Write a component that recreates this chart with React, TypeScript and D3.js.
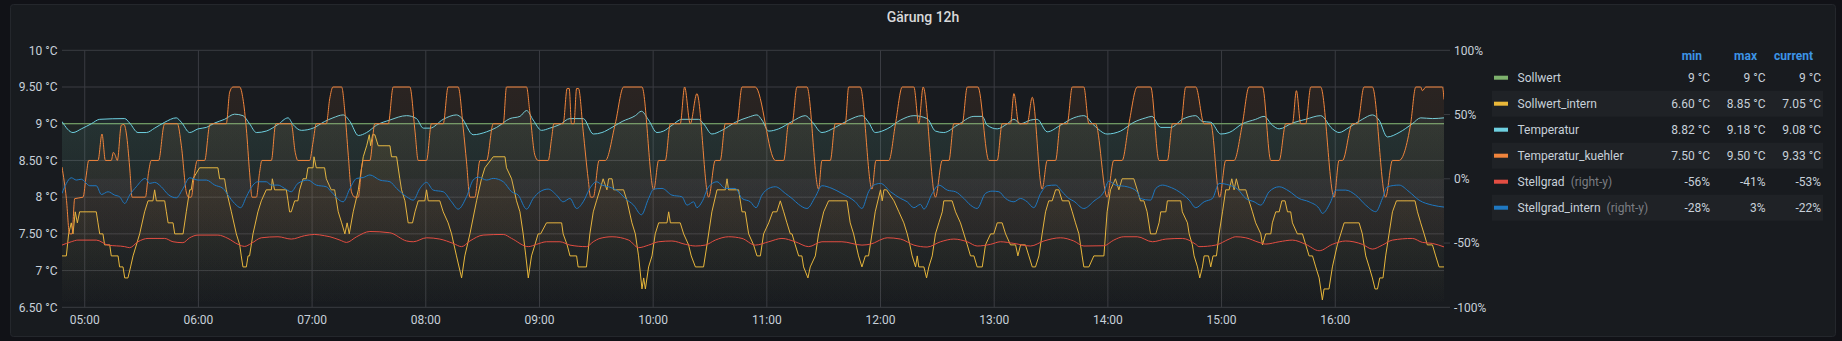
import React from "react";
import * as d3 from "d3";

const W = 1842;
const H = 341;

// ---------- data (minutes since 04:48, value) ----------
const seriesNames = ["Sollwert", "Sollwert_intern", "Temperatur", "Temperatur_kuehler", "Stellgrad", "Stellgrad_intern"];
const seriesColors = ["#7EB26D", "#EAB839", "#6ED0E0", "#EF843C", "#E24D42", "#1F78C1"];
const seriesAxis = ["left", "left", "left", "left", "right", "right"];

const legendMin = ["9 °C", "6.60 °C", "8.82 °C", "7.50 °C", "-56%", "-28%"];
const legendMax = ["9 °C", "8.85 °C", "9.18 °C", "9.50 °C", "-41%", "3%"];
const legendCurrent = ["9 °C", "7.05 °C", "9.08 °C", "9.33 °C", "-53%", "-22%"];

const leftTicks = [6.5, 7, 7.5, 8, 8.5, 9, 9.5, 10];
const rightTicks = [-100, -50, 0, 50, 100];

const startHour = 4;
const startMinute = 48;
const spanMinutes = 729.4;

const sollwert: [number, number][] = [[0, 9], [729.4, 9]];

const sollwertIntern: [number, number][] = [[0,7.2],[2.3,7.2],[3.5,7.5],[4.9,7.65],[5.8,7.5],[7.0,7.8],[8.1,7.65],[9.3,7.8],[18.1,7.8],[19.0,7.65],[19.9,7.5],[21.6,7.5],[22.5,7.35],[25.2,7.35],[26.0,7.2],[29.6,7.2],[30.4,7.05],[32.2,7.05],[33.1,6.9],[34.8,6.9],[36.2,7.05],[37.5,7.2],[41.0,7.5],[43.6,7.8],[45.4,7.95],[48.0,7.95],[48.9,8.1],[49.8,7.95],[54.2,7.95],[55.1,7.8],[56.0,7.65],[58.6,7.65],[59.5,7.5],[63.9,7.5],[65.6,7.8],[67.4,8.1],[68.2,8.1],[69.1,8.25],[72.6,8.4],[82.3,8.4],[83.2,8.25],[85.8,8.25],[86.7,8.1],[89.4,7.8],[92.0,7.5],[93.8,7.35],[94.6,7.2],[95.5,7.05],[97.3,7.05],[98.2,7.2],[99.0,7.2],[100.8,7.5],[103.4,7.8],[105.2,7.95],[107.8,8.1],[110.5,8.1],[111.0,8.25],[112.2,8.1],[118.4,8.1],[119.3,7.95],[120.1,7.8],[121.0,7.8],[122.8,7.95],[124.5,7.95],[125.4,8.1],[127.2,8.25],[128.9,8.25],[129.8,8.4],[132.5,8.4],[133.0,8.55],[134.2,8.4],[138.6,8.4],[139.5,8.25],[142.1,8.1],[143.9,8.1],[145.8,7.8],[147.6,7.65],[149.3,7.5],[150.5,7.65],[151.6,7.5],[153.7,7.8],[156.4,8.1],[159.0,8.55],[160.8,8.7],[162.2,8.85],[162.9,8.7],[163.9,8.85],[165.1,8.85],[166.9,8.7],[173.1,8.7],[173.9,8.55],[176.6,8.55],[178.3,8.25],[179.2,8.1],[181.0,7.95],[182.7,7.65],[185.0,7.65],[186.3,7.8],[188.0,7.95],[191.5,7.95],[192.4,8.1],[193.3,7.95],[199.4,7.95],[201.2,7.8],[203.8,7.65],[205.6,7.5],[208.2,7.2],[210.9,6.9],[212.6,7.2],[215.3,7.5],[218.8,7.95],[221.4,8.25],[223.2,8.4],[227.6,8.55],[233.8,8.55],[234.6,8.4],[237.3,8.25],[239.9,7.95],[241.7,7.8],[243.4,7.5],[244.8,7.2],[246.1,6.9],[247.8,7.2],[249.6,7.35],[251.3,7.5],[252.6,7.5],[255.7,7.65],[263.7,7.65],[264.5,7.5],[266.6,7.35],[268.1,7.2],[271.6,7.2],[272.4,7.05],[276.8,7.05],[278.6,7.5],[280.4,7.8],[282.1,7.95],[283.9,8.1],[285.6,8.25],[287.6,8.1],[288.5,8.25],[290.3,8.25],[291.2,8.1],[296.4,8.1],[298.2,7.95],[300.8,7.65],[302.6,7.5],[304.3,7.2],[306.1,6.75],[307.0,6.9],[307.9,6.75],[309.6,7.05],[311.4,7.2],[313.1,7.5],[314.9,7.65],[319.3,7.65],[320.2,7.8],[321.1,7.65],[326.3,7.65],[328.1,7.5],[330.7,7.35],[332.1,7.2],[334.3,7.05],[338.6,7.05],[340.4,7.35],[343.0,7.8],[345.7,8.1],[350.1,8.1],[351.0,8.25],[351.8,8.1],[357.1,8.1],[358.9,7.8],[360.6,7.8],[362.4,7.5],[365.0,7.35],[366.8,7.2],[368.6,7.2],[370.3,7.5],[373.0,7.65],[375.1,7.8],[377.3,7.8],[379.1,7.95],[380.9,7.8],[382.6,7.65],[384.4,7.5],[385.3,7.5],[387.0,7.35],[388.8,7.2],[390.5,7.2],[391.4,7.05],[393.7,6.9],[394.9,7.05],[397.6,7.2],[399.3,7.5],[402.0,7.8],[404.6,7.95],[414.3,7.95],[416.0,7.65],[417.8,7.5],[420.4,7.2],[422.2,7.05],[424.0,7.2],[425.7,7.2],[427.5,7.5],[429.2,7.8],[432.0,8.1],[432.9,7.95],[433.8,8.1],[435.2,8.1],[439.1,7.95],[441.7,7.8],[444.3,7.65],[446.1,7.5],[447.5,7.35],[448.7,7.2],[450.5,7.05],[451.4,7.2],[452.2,7.05],[454.9,7.05],[456.3,6.9],[457.5,7.05],[459.3,7.2],[461.0,7.5],[462.8,7.65],[464.6,7.8],[465.4,7.95],[469.8,7.95],[471.6,7.8],[474.2,7.65],[476.0,7.5],[477.8,7.35],[479.5,7.2],[481.3,7.2],[483.0,7.05],[485.7,7.05],[487.4,7.35],[490.1,7.5],[491.8,7.5],[493.6,7.65],[496.2,7.65],[498.0,7.5],[500.6,7.35],[503.3,7.35],[504.5,7.2],[505.9,7.35],[508.5,7.35],[510.3,7.2],[512.1,7.05],[513.8,7.05],[515.6,7.2],[517.3,7.5],[519.1,7.8],[520.8,7.95],[522.6,7.95],[524.4,8.1],[526.1,8.1],[527.9,7.95],[531.4,7.95],[533.2,7.8],[534.9,7.65],[536.7,7.5],[538.4,7.2],[539.3,7.05],[542.0,7.05],[544.6,7.2],[549.9,7.2],[551.6,7.8],[553.4,8.1],[556.0,8.25],[557.8,8.1],[559.5,8.25],[565.7,8.25],[567.5,8.1],[569.2,7.95],[571.0,7.95],[572.7,7.8],[574.5,7.5],[577.3,7.5],[579.0,7.65],[579.9,7.8],[582.6,7.8],[583.4,7.95],[590.5,7.95],[591.3,7.8],[594.0,7.65],[594.9,7.5],[596.6,7.35],[597.5,7.2],[599.3,7.05],[600.5,6.9],[601.9,7.05],[602.8,7.2],[605.1,7.2],[606.3,7.05],[607.5,7.2],[609.3,7.2],[610.7,7.5],[612.5,7.8],[614.2,8.1],[616.0,8.1],[617.4,8.25],[618.6,8.1],[619.8,8.25],[621.3,8.1],[624.8,8.1],[626.5,7.95],[628.3,7.8],[630.0,7.65],[632.7,7.5],[633.6,7.35],[635.3,7.5],[638.0,7.5],[638.8,7.65],[640.6,7.8],[642.4,7.8],[643.8,7.95],[645.5,7.95],[646.8,7.8],[648.5,7.8],[649.4,7.65],[652.0,7.5],[654.7,7.5],[658.2,7.2],[660.0,7.2],[661.7,7.05],[663.5,6.9],[665.2,6.6],[666.1,6.75],[668.7,6.75],[670.5,7.05],[673.1,7.35],[674.9,7.5],[676.7,7.65],[684.6,7.65],[686.3,7.5],[688.1,7.2],[689.9,7.05],[691.6,6.9],[693.0,6.75],[694.3,6.75],[695.5,6.9],[697.2,6.9],[698.6,7.2],[700.4,7.5],[702.2,7.8],[704.3,7.95],[714.1,7.95],[715.4,7.8],[717.1,7.65],[718.9,7.5],[720.6,7.35],[723.3,7.35],[725.0,7.2],[726.8,7.05],[729.4,7.05]];

const temperatur: [number, number][] = [[0,9.03],[5.8,8.88],[10.2,8.93],[15.5,9.0],[19.9,9.06],[33.1,9.07],[35.7,9.01],[40.1,8.88],[44.5,8.88],[48.9,8.94],[54.2,9.02],[60.3,9.08],[63.0,9.02],[67.4,8.88],[71.8,8.93],[76.2,8.95],[80.6,9.01],[85.8,9.06],[91.1,9.13],[95.5,9.11],[99.0,9.0],[102.6,8.88],[107.8,8.9],[114.0,8.99],[119.3,9.08],[121.9,8.99],[126.3,8.91],[132.5,8.94],[138.6,9.03],[143.0,9.08],[148.4,9.12],[152.0,9.03],[156.4,8.84],[160.8,8.88],[166.0,8.98],[173.0,9.05],[181.9,9.11],[187.1,9.07],[190.7,8.94],[194.2,8.94],[201.2,9.06],[208.2,9.12],[210.9,9.08],[217.0,8.85],[224.1,8.89],[229.4,8.95],[236.4,9.07],[241.7,9.1],[245.2,9.18],[248.7,9.05],[253.1,8.91],[257.5,8.94],[262.8,8.99],[268.1,9.07],[275.1,9.07],[280.4,8.86],[285.0,8.88],[290.3,8.95],[295.6,9.03],[302.6,9.11],[305.8,9.17],[309.6,9.05],[314.0,8.88],[317.5,8.9],[322.0,8.98],[327.2,9.06],[336.0,9.06],[338.6,9.0],[343.0,8.86],[348.3,8.91],[355.4,9.02],[362.4,9.09],[366.8,9.12],[369.4,9.05],[373.0,8.9],[378.2,8.93],[385.3,9.03],[392.3,9.11],[395.8,9.03],[401.1,8.88],[408.1,8.95],[415.2,9.05],[422.2,9.11],[425.7,9.02],[429.2,8.88],[435.5,8.93],[442.6,9.05],[449.6,9.11],[456.6,9.07],[461.0,8.9],[465.4,8.88],[472.5,8.98],[481.3,9.1],[485.7,9.1],[488.3,8.98],[493.6,8.93],[498.9,9.0],[502.4,9.06],[505.9,9.0],[511.2,9.05],[514.7,9.06],[520.0,8.89],[527.0,8.98],[534.0,9.08],[539.3,9.11],[544.6,8.98],[551.6,8.86],[558.7,8.9],[565.7,9.02],[572.0,9.08],[575.2,9.1],[579.9,8.95],[585.2,8.95],[591.3,9.06],[598.4,9.11],[601.9,9.03],[606.3,9.02],[611.6,8.86],[616.0,8.88],[623.0,9.0],[630.0,9.06],[634.4,9.1],[638.8,8.98],[642.4,8.93],[649.4,9.01],[656.4,9.06],[664.3,9.11],[670.5,8.93],[674.0,8.88],[679.3,8.95],[686.3,9.06],[691.6,9.12],[695.1,9.05],[699.5,8.82],[705.7,8.88],[712.7,9.0],[717.1,9.08],[723.3,9.07],[729.4,9.08]];

const temperaturKuehler: [number, number][] = [[0,8.41],[2.3,7.98],[4.0,7.5],[5.3,7.5],[6.7,7.98],[11.1,8.0],[12.8,8.3],[14.1,8.5],[19.0,8.5],[21.1,8.86],[22.9,8.5],[26.0,8.5],[27.1,8.61],[28.1,8.57],[29.2,8.5],[31.3,8.98],[32.7,8.99],[34.0,8.86],[35.7,8.41],[37.0,8.0],[44.0,8.0],[45.7,8.34],[47.1,8.5],[51.0,8.5],[53.8,8.98],[54.2,9.0],[60.9,9.0],[63.0,8.7],[65.6,8.07],[66.8,8.0],[68.2,8.0],[70.0,8.34],[71.4,8.5],[75.3,8.5],[77.9,8.98],[78.8,9.0],[86.7,9.0],[88.5,9.43],[90.2,9.5],[93.8,9.5],[95.5,9.34],[97.3,8.93],[99.0,8.34],[100.3,8.0],[102.6,8.0],[104.3,8.34],[105.5,8.5],[110.5,8.5],[112.6,8.98],[113.1,9.0],[121.0,9.0],[123.1,8.61],[124.5,8.5],[130.7,8.5],[132.5,8.75],[134.2,9.0],[139.5,9.0],[141.3,9.34],[143.0,9.5],[147.6,9.5],[149.3,9.16],[151.1,8.57],[152.8,8.07],[154.6,8.0],[156.4,8.0],[158.1,8.4],[159.0,8.5],[162.5,8.5],[165.1,9.0],[172.2,9.0],[174.8,9.5],[183.6,9.5],[186.3,8.9],[188.0,8.5],[192.4,8.5],[195.0,9.0],[201.2,9.0],[203.8,9.5],[209.1,9.5],[211.8,8.93],[213.5,8.48],[215.3,8.0],[217.9,8.0],[220.6,8.5],[224.1,8.5],[227.6,9.0],[232.9,9.0],[234.6,9.5],[245.2,9.5],[246.9,9.16],[249.6,8.57],[251.3,8.5],[256.6,8.5],[258.4,8.8],[259.6,9.0],[264.5,9.0],[266.6,9.48],[267.7,9.48],[268.9,9.0],[270.2,9.0],[271.6,9.48],[272.6,9.48],[275.1,8.89],[277.7,8.25],[279.0,8.0],[280.4,8.0],[283.5,8.5],[286.8,8.5],[292.0,9.0],[296.4,9.5],[306.1,9.5],[312.3,8.1],[314.9,8.5],[318.4,8.5],[321.1,9.0],[326.3,9.0],[328.6,9.5],[331.6,9.0],[335.1,9.41],[341.3,8.0],[344.8,8.5],[347.4,8.5],[350.1,9.0],[356.2,9.0],[358.9,9.5],[365.9,9.5],[376.5,8.5],[380.9,8.5],[383.5,9.0],[385.3,9.0],[387.9,9.5],[393.2,9.5],[399.3,8.11],[401.1,8.5],[405.5,8.5],[408.1,9.0],[413.4,9.0],[415.2,9.5],[421.3,9.5],[427.5,8.11],[429.6,8.5],[436.4,8.5],[439.9,9.0],[443.5,9.5],[449.6,9.5],[452.2,9.0],[454.5,9.5],[461.0,8.0],[464.6,8.5],[468.1,8.5],[470.7,9.0],[475.1,9.0],[477.8,9.5],[483.4,9.5],[489.2,8.5],[493.6,8.5],[496.2,9.0],[500.6,9.0],[502.4,9.41],[505.0,9.0],[509.4,9.0],[512.1,9.36],[517.3,8.11],[520.0,8.5],[524.4,8.5],[527.0,9.0],[530.5,9.0],[533.2,9.5],[539.3,9.5],[542.0,9.0],[545.5,9.0],[551.6,8.0],[555.1,8.5],[559.5,8.5],[563.1,9.0],[567.5,9.5],[574.6,9.5],[579.0,8.5],[583.4,8.5],[586.1,9.0],[590.5,9.0],[593.1,9.5],[598.4,9.5],[602.8,9.0],[606.3,9.0],[611.0,8.0],[614.2,8.5],[618.6,8.5],[623.0,9.0],[626.5,9.5],[633.6,9.5],[638.0,8.5],[642.4,8.5],[645.9,9.0],[649.4,9.0],[651.5,9.45],[653.8,9.0],[656.4,9.0],[659.1,9.5],[664.3,9.5],[671.4,8.0],[674.0,8.5],[675.8,8.5],[681.1,9.0],[683.7,9.0],[687.2,9.5],[691.6,9.5],[698.6,8.0],[702.2,8.5],[705.7,8.5],[711.8,9.0],[714.5,9.5],[717.1,9.5],[718.0,9.45],[719.8,9.5],[728.6,9.5],[729.4,9.33]];

const stellgrad: [number, number][] = [[0,-51.6],[4.9,-49.0],[8.4,-47.7],[18.1,-47.7],[24.3,-51.6],[33.1,-52.8],[35.7,-53.6],[40.1,-49.0],[45.4,-46.4],[54.2,-46.4],[58.6,-49.0],[63.8,-49.7],[67.4,-45.9],[71.8,-43.8],[82.3,-43.8],[87.6,-46.4],[92.9,-51.0],[96.4,-52.6],[99.9,-50.3],[105.2,-45.9],[114.0,-45.1],[121.0,-46.9],[128.0,-44.3],[133.3,-43.3],[138.6,-44.3],[141.4,-45.1],[146.7,-47.7],[150.2,-49.5],[155.5,-45.1],[162.5,-41.0],[173.0,-42.0],[181.9,-48.4],[185.4,-49.0],[192.4,-45.9],[199.4,-46.9],[206.5,-50.3],[210.9,-52.8],[215.3,-48.4],[222.3,-43.8],[232.9,-43.3],[237.3,-46.4],[246.1,-52.8],[250.5,-51.0],[255.7,-49.0],[262.8,-49.0],[268.1,-51.6],[276.8,-52.8],[280.4,-49.0],[283.9,-46.4],[290.3,-45.1],[299.1,-47.7],[304.3,-53.6],[309.6,-51.6],[314.9,-49.0],[321.9,-48.4],[329.0,-51.0],[334.3,-52.3],[339.5,-51.6],[344.8,-47.7],[351.8,-45.1],[358.9,-46.4],[365.9,-51.6],[373.0,-49.0],[380.0,-46.4],[387.0,-49.0],[394.1,-52.8],[401.1,-49.0],[411.6,-49.0],[422.2,-51.6],[427.5,-50.5],[432.8,-47.0],[435.5,-45.9],[442.6,-46.9],[449.6,-51.6],[456.6,-53.1],[463.7,-49.0],[470.7,-46.9],[477.8,-49.0],[483.0,-52.3],[490.1,-51.0],[495.3,-49.0],[502.4,-50.3],[511.2,-52.3],[518.2,-48.4],[527.0,-45.9],[534.0,-48.4],[539.3,-52.3],[549.9,-52.1],[555.1,-47.7],[560.4,-45.1],[567.5,-45.1],[575.5,-49.0],[582.6,-46.9],[591.3,-46.4],[598.4,-51.0],[600.1,-52.8],[608.9,-51.6],[616.0,-46.9],[619.5,-45.1],[624.8,-45.9],[631.8,-49.5],[635.3,-50.8],[642.4,-49.0],[649.4,-47.7],[656.4,-51.0],[663.5,-56.0],[670.5,-51.0],[677.5,-48.4],[686.3,-51.0],[691.6,-54.7],[696.9,-51.6],[702.2,-47.7],[712.7,-46.4],[718.0,-49.5],[723.3,-50.3],[729.4,-53.0]];

const stellgradIntern: [number, number][] = [[0,-11.4],[2.3,-3.6],[4.9,0.8],[7.6,-1.0],[10.2,-0.3],[12.0,-2.3],[14.6,-5.4],[18.1,-5.4],[20.8,-12.2],[24.3,-10.1],[27.8,-12.7],[30.4,-14.0],[33.1,-19.2],[35.7,-12.7],[39.2,-6.2],[44.0,0.3],[46.3,-3.6],[48.9,-2.8],[52.4,-6.2],[56.0,-12.2],[60.3,-14.8],[63.9,-7.5],[67.4,0.8],[71.8,-1.0],[76.2,-1.0],[80.6,-4.9],[85.0,-7.5],[87.6,-12.7],[91.1,-19.2],[94.3,-22.5],[97.3,-14.0],[100.8,-4.9],[103.4,-2.3],[107.8,-2.3],[110.5,-4.9],[114.0,-4.9],[117.5,-7.5],[121.0,-10.1],[124.5,-3.6],[129.8,-1.0],[134.2,-4.9],[139.5,-6.2],[142.1,-10.1],[148.4,-17.9],[152.0,-7.5],[155.5,0.3],[159.0,1.0],[162.5,3.0],[167.8,-1.0],[173.1,-2.3],[176.6,-7.5],[181.9,-14.0],[185.4,-16.6],[188.9,-7.5],[192.4,-2.8],[195.9,-8.8],[201.2,-10.1],[205.6,-17.9],[209.1,-23.6],[213.5,-14.0],[217.0,-1.0],[219.7,1.3],[224.1,-1.0],[227.6,0.3],[232.9,-2.3],[237.3,-10.1],[240.8,-12.7],[245.2,-23.6],[248.7,-15.3],[252.2,-10.1],[256.6,-8.0],[261.0,-12.7],[264.5,-17.9],[268.1,-15.3],[271.6,-23.1],[275.1,-17.9],[278.6,-7.5],[282.1,-2.3],[285.0,-4.9],[288.5,-6.2],[293.8,-10.1],[297.3,-15.3],[301.7,-20.5],[305.8,-28.0],[309.6,-15.3],[312.3,-8.0],[316.7,-7.5],[321.9,-12.7],[327.2,-14.0],[329.9,-20.5],[333.4,-17.9],[335.1,-22.5],[337.8,-17.9],[341.3,-6.2],[345.7,-2.3],[350.1,-7.5],[355.4,-7.5],[358.9,-15.3],[363.3,-17.9],[366.3,-22.5],[369.4,-12.7],[373.0,-7.5],[376.5,-6.2],[381.8,-11.4],[385.3,-15.3],[388.8,-19.9],[393.2,-23.1],[397.6,-14.0],[401.1,-5.4],[406.4,-7.5],[411.6,-11.4],[418.7,-17.9],[422.2,-23.1],[425.7,-10.1],[428.4,-4.9],[432.0,-3.6],[437.3,-10.1],[442.6,-15.3],[446.1,-17.9],[449.6,-22.5],[453.1,-19.9],[454.9,-23.6],[459.3,-11.4],[462.8,-4.9],[467.2,-8.8],[471.6,-10.1],[476.0,-15.3],[479.5,-20.5],[483.0,-23.1],[487.4,-11.4],[490.9,-9.6],[494.5,-10.1],[498.0,-15.3],[502.4,-17.9],[505.9,-15.3],[509.4,-17.9],[512.9,-22.5],[516.5,-11.4],[520.0,-5.4],[524.4,-4.9],[527.9,-10.1],[531.4,-15.3],[534.0,-17.4],[539.3,-23.1],[544.6,-17.4],[549.9,-10.1],[552.5,-1.8],[556.0,-4.9],[562.2,-6.2],[567.5,-10.1],[569.2,-15.3],[574.5,-16.6],[577.3,-7.5],[580.8,-4.9],[584.3,-6.2],[589.6,-10.1],[594.9,-16.6],[598.4,-22.5],[602.8,-17.9],[607.2,-15.3],[610.7,-3.6],[616.0,-4.9],[620.4,-8.0],[624.8,-15.3],[629.2,-17.9],[632.7,-20.5],[637.1,-10.1],[642.4,-6.2],[647.6,-9.6],[652.9,-15.3],[658.2,-17.9],[663.5,-23.1],[665.2,-26.9],[669.6,-17.9],[672.3,-8.8],[677.5,-8.8],[682.8,-12.7],[688.1,-20.5],[693.4,-25.6],[696.9,-15.3],[699.5,-6.2],[705.7,-4.9],[711.0,-10.1],[716.2,-16.6],[723.3,-20.5],[729.4,-22.0]];

const seriesData = [sollwert, sollwertIntern, temperatur, temperaturKuehler, stellgrad, stellgradIntern];
const seriesSmooth = [false, false, true, true, true, true];

// ---------- layout ----------
const PLOT_L = 62;
const PLOT_R = 1444;
const PLOT_T = 50.3;
const PLOT_B = 307.3;
const FILL_TOP = 0.1;

const FONT = "Roboto, 'Noto Sans', sans-serif";
const TEXT = "#c7d0d9";

export default function App() {
  const t0 = new Date(2021, 5, 1, startHour, startMinute);
  const toDate = (m: number) => new Date(t0.getTime() + m * 60000);
  const t1 = toDate(spanMinutes);

  const x = d3.scaleTime().domain([t0, t1]).range([PLOT_L, PLOT_R]);
  const yL = d3.scaleLinear().domain([6.5, 10]).range([PLOT_B, PLOT_T]);
  const yR = d3.scaleLinear().domain([-100, 100]).range([PLOT_B, PLOT_T]);
  const hours = d3.timeHour.range(d3.timeHour.ceil(t0), t1);
  const fmtHour = d3.timeFormat("%H:%M");
  const fmtLeft = (v: number) => (Number.isInteger(v) ? `${v} °C` : `${v.toFixed(2)} °C`);

  const series = seriesNames.map((name, i) => {
    const ys = seriesAxis[i] === "left" ? yL : yR;
    const base = seriesAxis[i] === "left" ? PLOT_B : yR(0);
    const curve = seriesSmooth[i] ? d3.curveMonotoneX : d3.curveLinear;
    const line = d3
      .line<[number, number]>()
      .x((d) => x(toDate(d[0])))
      .y((d) => ys(d[1]))
      .curve(curve);
    const area = d3
      .area<[number, number]>()
      .x((d) => x(toDate(d[0])))
      .y0(base)
      .y1((d) => ys(d[1]))
      .curve(curve);
    return { name, color: seriesColors[i], lineD: line(seriesData[i]) || "", areaD: area(seriesData[i]) || "" };
  });

  const rowY = (i: number) => 77.7 + i * 26;

  return (
    <svg
      width={W}
      height={H}
      style={{ position: "absolute", left: 0, top: 0, display: "block" }}
      fontFamily={FONT}
    >
      <defs>
        {series.map((s, i) => (
          <linearGradient key={i} id={`g${i}`} gradientUnits="userSpaceOnUse" x1={0} y1={PLOT_B} x2={0} y2={PLOT_T}>
            <stop offset="0" stopColor={s.color} stopOpacity={0} />
            <stop offset="1" stopColor={s.color} stopOpacity={FILL_TOP} />
          </linearGradient>
        ))}
        <clipPath id="plotClip">
          <rect x={PLOT_L} y={PLOT_T - 1} width={PLOT_R - PLOT_L} height={PLOT_B - PLOT_T + 2} />
        </clipPath>
      </defs>
      <rect x={0} y={0} width={W} height={H} fill="#111217" />
      <rect x={10.5} y={4.5} width={1825} height={332} rx={3} fill="#181b1f" stroke="#24272c" />

      <text x={923} y={22} textAnchor="middle" fill="#d8d9da" fontSize={14} fontWeight={500}>
        Gärung 12h
      </text>

      {/* grid */}
      {leftTicks.map((v) => (
        <line key={v} x1={PLOT_L} x2={PLOT_R} y1={yL(v)} y2={yL(v)} stroke="#3a3c42" strokeWidth={1} />
      ))}
      {hours.map((h) => (
        <line key={+h} x1={x(h)} x2={x(h)} y1={PLOT_T} y2={PLOT_B} stroke="#3a3c42" strokeWidth={1} />
      ))}
      {rightTicks.map((v) => (
        <line key={v} x1={PLOT_R} x2={PLOT_R + 6} y1={yR(v)} y2={yR(v)} stroke="#3a3c42" strokeWidth={1} />
      ))}

      {/* series */}
      <g clipPath="url(#plotClip)">
        {series.map((s, i) => (
          <g key={s.name}>
            <path d={s.areaD} fill={`url(#g${i})`} stroke="none" />
            <path d={s.lineD} fill="none" stroke={s.color} strokeWidth={1} strokeLinejoin="round" />
          </g>
        ))}
      </g>

      {/* axes labels */}
      {leftTicks.map((v) => (
        <text key={v} x={57.5} y={yL(v) + 4.2} textAnchor="end" fill={TEXT} fontSize={12}>
          {fmtLeft(v)}
        </text>
      ))}
      {rightTicks.map((v) => (
        <text key={v} x={1454} y={yR(v) + 4.2} textAnchor="start" fill={TEXT} fontSize={12}>
          {`${v}%`}
        </text>
      ))}
      {hours.map((h) => (
        <text key={+h} x={x(h)} y={323.5} textAnchor="middle" fill={TEXT} fontSize={12}>
          {fmtHour(h)}
        </text>
      ))}

      {/* legend */}
      <g fontSize={12}>
        <text x={1702} y={59.5} textAnchor="end" fill="#3d94e6" fontWeight={700}>min</text>
        <text x={1757} y={59.5} textAnchor="end" fill="#3d94e6" fontWeight={700}>max</text>
        <text x={1813} y={59.5} textAnchor="end" fill="#3d94e6" fontWeight={700}>current</text>
        {seriesNames.map((name, i) => {
          const cy = rowY(i);
          return (
            <g key={name}>
              {i % 2 === 1 && <rect x={1492} y={cy - 13} width={331} height={26} fill="#1f2226" />}
              <rect x={1494} y={cy - 2} width={14} height={4} fill={seriesColors[i]} />
              <text x={1517.5} y={cy + 4.2} fill={TEXT}>
                <tspan>{name}</tspan>
                {seriesAxis[i] === "right" && (
                  <tspan dx={6} fill="#7b7d82">(right-y)</tspan>
                )}
              </text>
              <text x={1710} y={cy + 4.2} textAnchor="end" fill={TEXT}>{legendMin[i]}</text>
              <text x={1765.5} y={cy + 4.2} textAnchor="end" fill={TEXT}>{legendMax[i]}</text>
              <text x={1821} y={cy + 4.2} textAnchor="end" fill={TEXT}>{legendCurrent[i]}</text>
            </g>
          );
        })}
      </g>
    </svg>
  );
}
